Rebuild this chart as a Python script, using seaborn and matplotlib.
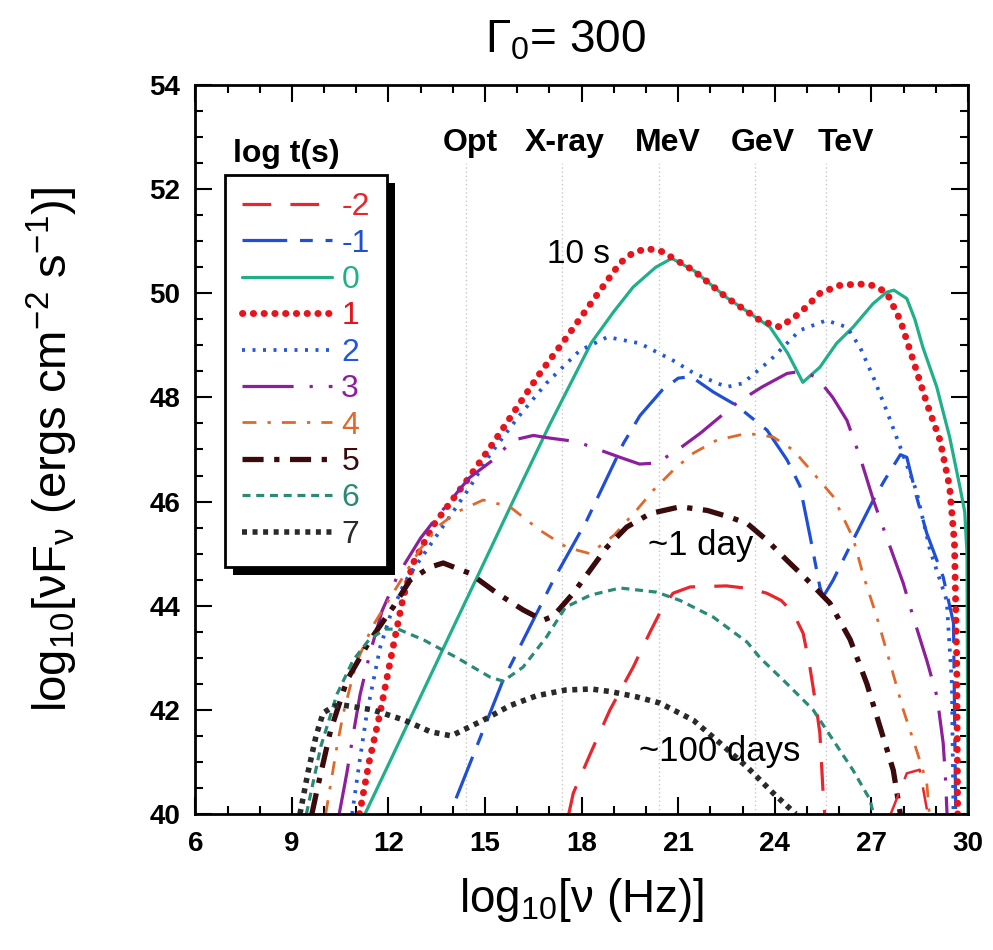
import numpy as np
import matplotlib
matplotlib.use("Agg")
import matplotlib.pyplot as plt
import seaborn as sns
from matplotlib.patches import Rectangle

# ---- spectral curves: log10(nu) [Hz] vs log10(nu F_nu) ----
nu_m2 = [17.6, 17.74, 18.3, 18.88, 19.6, 20.13, 20.5, 20.84, 21.37, 22.5, 23.2, 23.75, 24.2, 24.57, 24.88, 25.09, 25.3, 25.4, 25.5, 25.55]
f_m2 = [40.0, 40.4, 41.2, 42.0, 42.82, 43.5, 43.95, 44.24, 44.36, 44.38, 44.33, 44.24, 44.1, 43.86, 43.47, 42.82, 42.0, 41.55, 40.4, 40.0]
nu_m2_ic = [27.6, 28.1, 28.5, 28.75]
f_m2_ic = [40.0, 40.78, 40.85, 40.0]

nu_m1 = [14.1, 15.56, 17.12, 18.16, 19.3, 19.81, 20.5, 21.0, 21.4, 22.1, 22.8, 23.76, 24.38, 24.78, 25.09, 25.4, 25.5, 25.81, 26.43, 27.06, 27.4, 27.9, 28.1, 28.4, 28.72, 29.23, 29.55, 29.62]
f_m1 = [40.3, 42.57, 44.49, 45.64, 47.12, 47.65, 48.14, 48.37, 48.4, 48.1, 47.85, 47.37, 46.8, 46.3, 45.35, 44.36, 44.17, 44.49, 45.26, 46.03, 46.4, 46.9, 46.85, 46.1, 45.39, 44.55, 43.67, 40.0]

nu_0 = [11.27, 12.0, 13.0, 14.0, 15.0, 16.0, 17.0, 18.3, 19.0, 19.6, 20.3, 20.8, 21.5, 22.5, 23.5, 23.85, 24.4, 24.87, 25.4, 25.92, 26.43, 27.05, 27.47, 27.7, 28.1, 28.35, 28.6, 29.03, 29.43, 29.75, 29.9, 29.97, 30.0]
f_0 = [40.0, 40.95, 42.26, 43.57, 44.87, 46.18, 47.47, 49.05, 49.65, 50.12, 50.5, 50.67, 50.43, 49.92, 49.5, 49.35, 48.85, 48.29, 48.58, 49.04, 49.35, 49.8, 50.02, 50.06, 49.9, 49.5, 48.96, 48.2, 47.24, 46.28, 45.8, 45.0, 40.0]

nu_1 = [11.1, 11.4, 11.74, 12.14, 12.46, 12.77, 13.4, 14.44, 15.25, 16.08, 16.7, 17.54, 18.36, 19.19, 19.6, 20.03, 20.5, 21.47, 22.5, 23.54, 24.16, 24.78, 25.4, 26.0, 26.6, 27.05, 27.47, 27.9, 28.3, 28.72, 29.13, 29.43, 29.58, 29.65, 29.68]
f_1 = [40.0, 41.0, 41.94, 43.2, 44.17, 44.82, 45.55, 46.41, 47.12, 47.89, 48.46, 49.16, 49.87, 50.58, 50.78, 50.86, 50.8, 50.44, 49.92, 49.48, 49.35, 49.62, 50.0, 50.15, 50.18, 50.15, 50.02, 49.48, 48.71, 47.89, 47.18, 46.28, 45.2, 43.0, 40.0]

nu_2 = [10.87, 11.1, 11.33, 11.74, 12.05, 12.5, 13.5, 14.5, 15.15, 16.0, 16.9, 17.94, 18.8, 19.8, 20.84, 21.5, 22.5, 23.0, 23.85, 24.78, 25.6, 26.24, 26.65, 27.06, 27.47, 27.9, 28.4, 28.82, 29.34, 29.5, 29.55]
f_2 = [40.0, 41.0, 41.94, 43.2, 43.8, 44.45, 45.35, 46.25, 46.9, 47.6, 48.27, 48.9, 49.16, 49.04, 48.71, 48.46, 48.2, 48.27, 48.71, 49.29, 49.48, 49.35, 48.96, 48.39, 47.75, 47.04, 46.2, 45.07, 44.1, 42.5, 40.0]

nu_3 = [10.47, 10.71, 10.91, 11.12, 11.43, 11.8, 12.3, 13.0, 13.5, 14.5, 15.25, 15.87, 16.5, 17.0, 17.85, 19.19, 19.8, 20.33, 21.0, 21.68, 22.83, 23.6, 24.38, 24.8, 25.3, 25.8, 26.24, 26.65, 27.06, 27.47, 27.99, 28.3, 28.72, 29.04, 29.23, 29.3, 29.35]
f_3 = [40.0, 40.8, 41.55, 42.3, 43.1, 43.9, 44.6, 45.3, 45.7, 46.45, 46.8, 47.18, 47.27, 47.22, 47.15, 46.85, 46.72, 46.74, 47.0, 47.31, 47.9, 48.2, 48.46, 48.5, 48.39, 48.0, 47.56, 46.85, 46.03, 45.32, 44.43, 43.78, 42.95, 42.25, 41.36, 40.7, 40.0]

nu_4 = [10.05, 10.4, 10.6, 11.0, 11.5, 12.0, 12.5, 13.0, 13.6, 14.13, 14.94, 15.77, 16.7, 17.54, 18.26, 19.0, 19.7, 20.23, 20.84, 21.47, 22.2, 23.14, 23.95, 24.57, 25.19, 25.81, 26.43, 26.74, 27.17, 27.58, 27.99, 28.4, 28.72, 28.8]
f_4 = [40.0, 41.3, 41.94, 42.9, 43.6, 44.1, 44.6, 45.1, 45.55, 45.8, 46.03, 45.9, 45.45, 45.12, 45.0, 45.35, 45.83, 46.22, 46.6, 46.93, 47.18, 47.31, 47.24, 46.99, 46.55, 46.1, 45.3, 44.6, 43.78, 42.9, 42.0, 41.23, 40.6, 40.0]

nu_5 = [9.62, 9.78, 10.2, 10.71, 11.43, 12.14, 12.67, 13.29, 13.7, 14.53, 15.37, 16.18, 16.8, 17.12, 17.74, 18.26, 18.78, 19.4, 20.13, 21.06, 21.9, 22.6, 23.14, 23.75, 24.38, 25.0, 25.71, 26.34, 26.86, 27.27, 27.68, 27.9]
f_5 = [40.0, 40.46, 41.6, 42.57, 43.34, 43.97, 44.49, 44.74, 44.82, 44.62, 44.24, 43.92, 43.72, 43.8, 44.24, 44.68, 45.12, 45.51, 45.77, 45.9, 45.83, 45.7, 45.58, 45.26, 44.87, 44.5, 44.05, 43.35, 42.5, 41.67, 40.84, 40.0]

nu_6 = [9.45, 9.9, 10.4, 10.9, 11.4, 11.9, 12.3, 13.1, 14.13, 15.15, 15.56, 16.18, 16.91, 17.5, 18.26, 19.19, 20.33, 21.06, 22.09, 23.14, 23.54, 24.38, 25.19, 25.81, 26.43, 26.96, 27.06]
f_6 = [40.0, 41.3, 42.3, 42.95, 43.35, 43.55, 43.55, 43.34, 43.0, 42.63, 42.55, 42.82, 43.4, 43.97, 44.2, 44.34, 44.26, 44.1, 43.78, 43.3, 43.0, 42.5, 42.0, 41.42, 40.84, 40.27, 40.0]

nu_7 = [9.25, 9.5, 9.75, 9.97, 10.3, 10.6, 11.5, 12.5, 13.3, 13.95, 14.94, 15.77, 16.6, 17.5, 18.3, 18.9, 19.7, 20.43, 21.47, 22.3, 23.14, 23.95, 24.65]
f_7 = [40.0, 40.8, 41.5, 41.94, 42.07, 42.09, 42.0, 41.8, 41.58, 41.5, 41.8, 42.08, 42.27, 42.38, 42.4, 42.35, 42.25, 42.13, 41.8, 41.36, 40.9, 40.4, 40.0]

legend_labels = ["-2", "-1", "0", "1", "2", "3", "4", "5", "6", "7"]
band_names = ["Opt", "X-ray", "MeV", "GeV", "TeV"]
band_nu = [14.4, 17.4, 20.4, 23.4, 25.6]
band_label_nu = [14.55, 17.48, 20.68, 23.62, 26.2]

sns.set_theme(style="ticks")
plt.rcParams["font.family"] = ["Liberation Sans", "DejaVu Sans"]
plt.rcParams["mathtext.fontset"] = "custom"
plt.rcParams["mathtext.rm"] = "Liberation Sans"
plt.rcParams["mathtext.it"] = "Liberation Sans:italic"
plt.rcParams["mathtext.bf"] = "Liberation Sans:bold"
for key in ["text.color", "axes.labelcolor", "xtick.color", "ytick.color"]:
    plt.rcParams[key] = "black"

fig = plt.figure(figsize=(9.93, 9.5), dpi=100)
ax = fig.add_axes([0.1967, 0.1432, 0.7781, 0.7673])

styles = [
    (nu_m2, f_m2, "#e8262e", (0, (9, 6)), 2.3, "butt"),
    (nu_m1, f_m1, "#1f4fd6", (0, (14, 4, 4, 4)), 2.3, "butt"),
    (nu_0, f_0, "#1fb08a", "-", 2.3, "butt"),
    (nu_1, f_1, "#e8141c", (0, (0.05, 1.5)), 5.0, "round"),
    (nu_2, f_2, "#2458da", (0, (0.8, 2.0)), 2.7, "butt"),
    (nu_3, f_3, "#8e1f9c", (0, (16, 5, 1, 5)), 2.3, "butt"),
    (nu_4, f_4, "#e0682c", (0, (5, 4, 1.2, 4)), 2.0, "butt"),
    (nu_5, f_5, "#3a0a0c", (0, (4, 2, 1, 2)), 3.8, "butt"),
    (nu_6, f_6, "#2a8a78", (0, (2.5, 1.8)), 2.3, "butt"),
    (nu_7, f_7, "#2a2a2a", (0, (0.9, 1.0)), 4.0, "butt"),
]

for (xs, ys, c, ls, lw, cap), lab in zip(styles, legend_labels):
    sns.lineplot(x=xs, y=ys, ax=ax, color=c, linestyle=ls, linewidth=lw,
                 sort=False, estimator=None, label=lab, dash_capstyle=cap)

# high-energy bump of the earliest spectrum
sns.lineplot(x=nu_m2_ic, y=f_m2_ic, ax=ax, color=styles[0][2], linestyle=styles[0][3],
             linewidth=1.8, sort=False, estimator=None, legend=False)

# band markers
ax.vlines(band_nu, 40, 52.5, colors="#c8c8c8", linestyles=(0, (1, 2)), linewidth=1.0, zorder=0)
for name, x in zip(band_names, band_label_nu):
    ax.text(x, 52.88, name, ha="center", va="center", fontsize=23, fontweight="bold")

ax.text(17.9, 50.75, "10 s", ha="center", va="center", fontsize=24)
ax.text(21.7, 45.15, "~1 day", ha="center", va="center", fontsize=25)
ax.text(22.3, 41.2, "~100 days", ha="center", va="center", fontsize=25)

ax.set_xlim(6, 30)
ax.set_ylim(40, 54)
ax.set_xticks(np.arange(6, 31, 3))
ax.set_yticks(np.arange(40, 55, 2))
ax.set_xticks(np.arange(6, 31, 1), minor=True)
ax.set_yticks(np.arange(40, 54.01, 0.5), minor=True)
ax.tick_params(which="both", direction="in", top=True, right=True, labelsize=20, width=1.5)
ax.tick_params(which="major", length=12)
ax.tick_params(axis="x", which="major", pad=12)
ax.tick_params(axis="y", which="major", pad=11)
ax.tick_params(which="minor", length=6)
for lbl in ax.get_xticklabels() + ax.get_yticklabels():
    lbl.set_fontweight("bold")
for s in ax.spines.values():
    s.set_linewidth(2)
    s.set_color("black")

ax.set_xlabel(r"log$_{10}$[ν (Hz)]", fontsize=33, labelpad=14)
ax.set_ylabel(r"log$_{10}$[νF$_\mathregular{ν}$ (ergs cm$^{-2}$ s$^{-1}$)]", fontsize=34, labelpad=50)
fig.text(0.57, 0.957, r"$\Gamma_0$= 300", ha="center", va="center", fontsize=33)

handles, labels = ax.get_legend_handles_labels()
leg = ax.legend(handles[:10], labels[:10], loc="upper left", bbox_to_anchor=(0.038, 0.877),
                fontsize=23, labelcolor="linecolor", handlelength=2.8, handletextpad=0.3,
                labelspacing=0.2, borderpad=0.55, fancybox=False, framealpha=1,
                edgecolor="black", borderaxespad=0)
leg.get_frame().set_linewidth(2)
ax.text(0.118, 0.905, "log t(s)", transform=ax.transAxes, ha="center", va="center",
        fontsize=23, fontweight="bold")

# drop shadow behind the legend box
fig.canvas.draw()
bb = leg.get_frame().get_window_extent().transformed(ax.transAxes.inverted())
dx = 8 / (ax.bbox.width)
dy = 8 / (ax.bbox.height)
ax.add_patch(Rectangle((bb.x0 + dx, bb.y0 - dy), bb.width, bb.height, transform=ax.transAxes,
                       facecolor="black", edgecolor="none", zorder=4.9, clip_on=False))

fig.savefig("out.png", dpi=100)
